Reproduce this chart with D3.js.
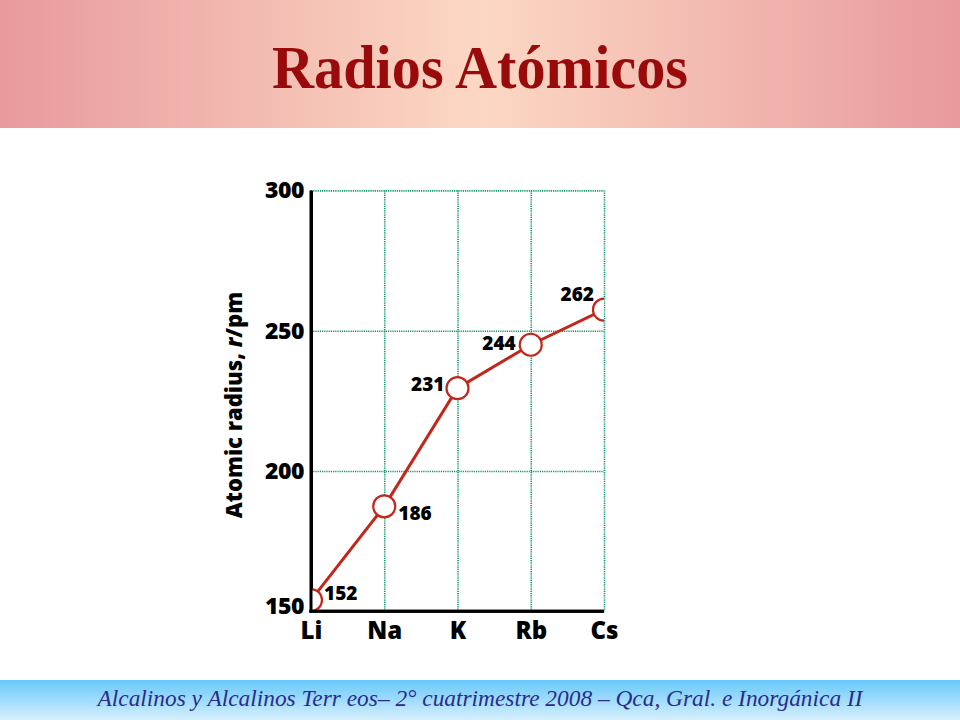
<!DOCTYPE html>
<html>
<head>
    <meta charset="utf-8">
    <title>Radios Atómicos</title>
    <script src="https://d3js.org/d3.v7.min.js"></script>
    <style>
        html, body { margin: 0; padding: 0; background: white; }
        svg { display: block; }
    </style>
</head>
<body>
    <div id="chart"></div>
    <script>
        // Elements along the x axis
        const elements = ["Li", "Na", "K", "Rb", "Cs"];
        // Printed value labels (pm)
        const radiusLabels = [152, 186, 231, 244, 262];
        // Where the markers actually sit on the drawing
        const markRadius = [154, 187.4, 229.5, 245, 257.5];
        // Y ticks
        const yTicks = [150, 200, 250, 300];

        const W = 960, H = 720;
        const plot = { left: 311, right: 604, top: 190.4, bottom: 611.3 };

        const svg = d3.select("#chart").append("svg")
            .attr("width", W)
            .attr("height", H);

        const defs = svg.append("defs");

        // header gradient (pink edges, peach centre)
        const hg = defs.append("linearGradient").attr("id", "headGrad")
            .attr("x1", "0%").attr("x2", "100%").attr("y1", "0%").attr("y2", "0%");
        hg.append("stop").attr("offset", "0%").attr("stop-color", "#e89a9c");
        hg.append("stop").attr("offset", "50%").attr("stop-color", "#fcd8c4");
        hg.append("stop").attr("offset", "100%").attr("stop-color", "#e89a9c");

        // footer gradient (blue top, pale bottom)
        const fg = defs.append("linearGradient").attr("id", "footGrad")
            .attr("x1", "0%").attr("x2", "0%").attr("y1", "0%").attr("y2", "100%");
        fg.append("stop").attr("offset", "0%").attr("stop-color", "#68c8fb");
        fg.append("stop").attr("offset", "100%").attr("stop-color", "#d6f0fd");

        defs.append("clipPath").attr("id", "plotClip")
            .append("rect")
            .attr("x", plot.left)
            .attr("y", plot.top - 20)
            .attr("width", plot.right - plot.left)
            .attr("height", plot.bottom - plot.top + 20);

        svg.append("rect").attr("width", W).attr("height", H).attr("fill", "white");

        // HEADER
        svg.append("rect").attr("x", 0).attr("y", 0).attr("width", W).attr("height", 128)
            .attr("fill", "url(#headGrad)");
        svg.append("text")
            .attr("x", 480).attr("y", 88)
            .attr("text-anchor", "middle")
            .attr("font-family", "'Liberation Serif', 'Times New Roman', serif")
            .attr("font-weight", "bold")
            .attr("font-size", 62)
            .attr("textLength", 416)
            .attr("lengthAdjust", "spacingAndGlyphs")
            .attr("fill", "#990a0a")
            .text("Radios Atómicos");

        // FOOTER
        svg.append("rect").attr("x", 0).attr("y", 680).attr("width", W).attr("height", 40)
            .attr("fill", "url(#footGrad)");
        svg.append("text")
            .attr("x", 480).attr("y", 706)
            .attr("text-anchor", "middle")
            .attr("font-family", "'Liberation Serif', serif")
            .attr("font-style", "italic")
            .attr("font-size", 23)
            .attr("textLength", 765)
            .attr("lengthAdjust", "spacingAndGlyphs")
            .attr("fill", "#2b2b8c")
            .text("Alcalinos y Alcalinos Terr eos– 2° cuatrimestre 2008 – Qca, Gral. e Inorgánica II");

        // Scales
        const xScale = d3.scalePoint()
            .domain(elements)
            .range([plot.left, plot.right]);

        const yScale = d3.scaleLinear()
            .domain([150, 300])
            .range([plot.bottom, plot.top]);

        const font = "'Open Sans', 'DejaVu Sans', sans-serif";

        // Grid lines (dotted green)
        const hGrid = svg.append("g")
            .attr("transform", `translate(${plot.left},0)`)
            .call(d3.axisRight(yScale).tickValues(yTicks.slice(1))
                .tickSize(plot.right - plot.left).tickFormat(""));
        hGrid.select(".domain").remove();

        const vGrid = svg.append("g")
            .attr("transform", `translate(0,${plot.top})`)
            .call(d3.axisBottom(xScale).tickSize(plot.bottom - plot.top).tickFormat(""));
        vGrid.select(".domain").remove();

        svg.selectAll(".tick line")
            .attr("stroke", "#0f9466")
            .attr("stroke-width", 1.6)
            .attr("stroke-dasharray", "1.2,1");

        // Axes (thick black)
        const yAxis = svg.append("g")
            .attr("transform", `translate(${plot.left},0)`)
            .call(d3.axisLeft(yScale).tickValues(yTicks).tickSize(0).tickPadding(7));
        yAxis.select(".domain").attr("stroke", "black").attr("stroke-width", 3);
        yAxis.selectAll("text")
            .attr("font-family", font)
            .attr("font-weight", 800)
            .attr("font-size", 23)
            .attr("letter-spacing", "-0.5")
            .attr("fill", "black");
        yAxis.selectAll(".tick")
            .filter(d => d === 150)
            .select("text").attr("dy", "0.1em");

        const xAxis = svg.append("g")
            .attr("transform", `translate(0,${plot.bottom})`)
            .call(d3.axisBottom(xScale).tickSize(0).tickPadding(11));
        xAxis.select(".domain").attr("stroke", "black").attr("stroke-width", 3)
            .attr("d", `M${plot.left - 1.5},0H${plot.right}`);
        xAxis.selectAll("text")
            .attr("font-family", font)
            .attr("font-weight", 800)
            .attr("font-size", 24)
            .attr("fill", "black");

        // Y axis title
        const yTitle = svg.append("text")
            .attr("transform", `translate(242,405) rotate(-90)`)
            .attr("text-anchor", "middle")
            .attr("font-family", font)
            .attr("font-weight", 800)
            .attr("font-size", 22)
            .attr("fill", "black");
        yTitle.append("tspan").text("Atomic radius, ");
        yTitle.append("tspan").attr("font-style", "italic").text("r");
        yTitle.append("tspan").text("/pm");

        // Line and markers
        const points = elements.map((e, i) => ({ el: e, y: markRadius[i], label: radiusLabels[i] }));

        const line = d3.line()
            .x(d => xScale(d.el))
            .y(d => yScale(d.y));

        const plotArea = svg.append("g").attr("clip-path", "url(#plotClip)");

        plotArea.append("path")
            .datum(points)
            .attr("fill", "none")
            .attr("stroke", "#c0281c")
            .attr("stroke-width", 3)
            .attr("d", line);

        plotArea.selectAll(".dot")
            .data(points)
            .enter()
            .append("circle")
            .attr("cx", d => xScale(d.el))
            .attr("cy", d => yScale(d.y))
            .attr("r", 11)
            .attr("fill", "white")
            .attr("stroke", "#c0281c")
            .attr("stroke-width", 2.2);

        // redraw axes on top of clipped markers
        svg.append("line")
            .attr("x1", plot.left).attr("x2", plot.left)
            .attr("y1", plot.top).attr("y2", plot.bottom + 1.5)
            .attr("stroke", "black").attr("stroke-width", 3);
        svg.append("line")
            .attr("x1", plot.left - 1.5).attr("x2", plot.right)
            .attr("y1", plot.bottom).attr("y2", plot.bottom)
            .attr("stroke", "black").attr("stroke-width", 3);

        // Value labels
        const labelPos = [
            { dx: 13, dy: 0, anchor: "start" },
            { dx: 14, dy: 14, anchor: "start" },
            { dx: -13, dy: 3, anchor: "end" },
            { dx: -15, dy: 5, anchor: "end" },
            { dx: -10, dy: -9, anchor: "end" }
        ];
        svg.selectAll(".val")
            .data(points)
            .enter()
            .append("text")
            .attr("x", (d, i) => xScale(d.el) + labelPos[i].dx)
            .attr("y", (d, i) => yScale(d.y) + labelPos[i].dy)
            .attr("text-anchor", (d, i) => labelPos[i].anchor)
            .attr("font-family", font)
            .attr("font-weight", 800)
            .attr("font-size", 19)
            .attr("fill", "black")
            .text(d => d.label);
    </script>
</body>
</html>
